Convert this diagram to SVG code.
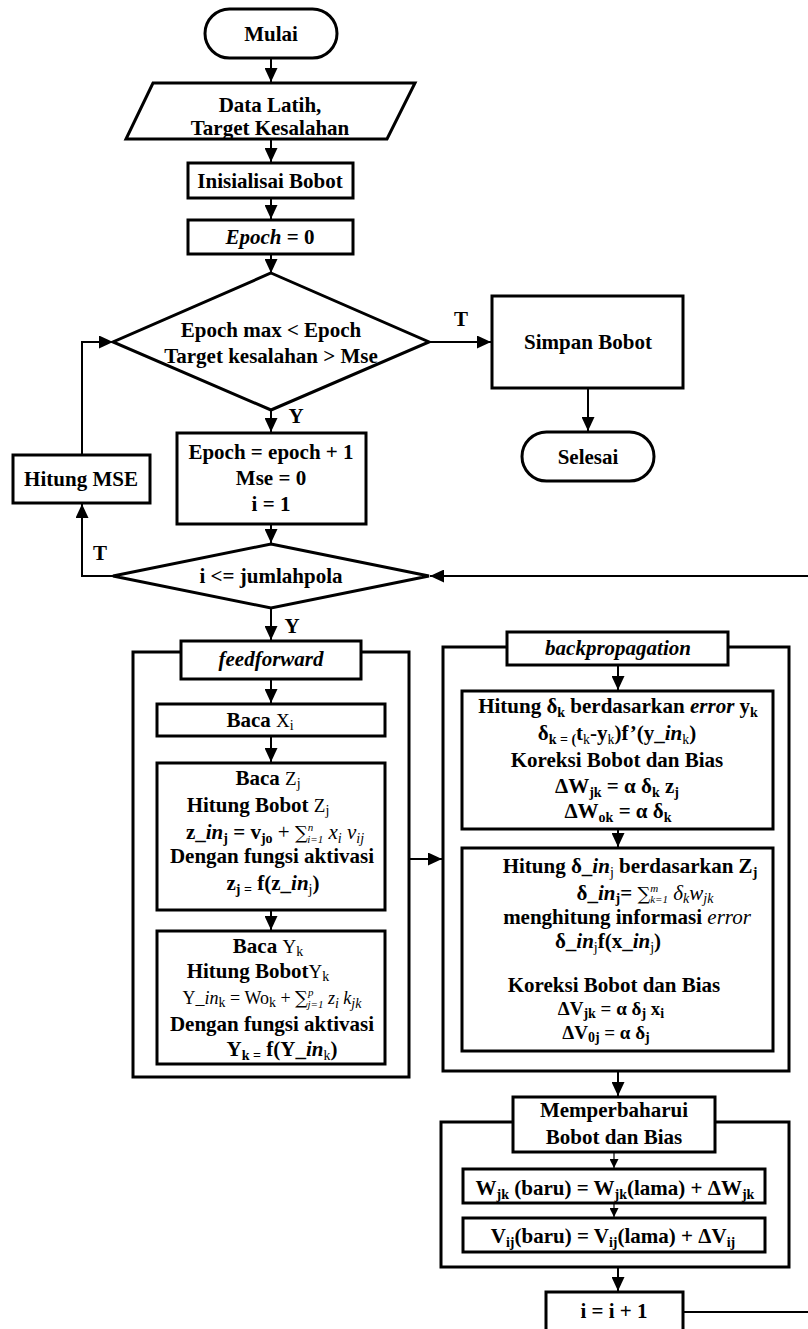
<svg xmlns="http://www.w3.org/2000/svg" width="808" height="1329" viewBox="0 0 808 1329">
<defs>
<style>
.t{font-family:"Liberation Serif","Times New Roman",serif;font-size:21px;font-weight:bold;fill:#000;text-anchor:middle}
.r{font-weight:normal}
.i{font-style:italic}
.s{font-size:14px}
.l{font-size:11px}
.sg{font-family:"DejaVu Serif","Liberation Serif",serif;font-size:18px;font-weight:normal}
.m{font-size:19px}
.bx{fill:#fff;stroke:#000;stroke-width:3}
.ct{fill:none;stroke:#000;stroke-width:3}
.ln{fill:none;stroke:#000;stroke-width:2}
.th{fill:none;stroke:#000;stroke-width:1.2}
</style>
<marker id="a" markerUnits="userSpaceOnUse" markerWidth="14" markerHeight="13" refX="14" refY="6.5" orient="auto"><path d="M0 0 L14 6.5 L0 13 Z" fill="#000"/></marker>
<marker id="as" markerUnits="userSpaceOnUse" markerWidth="9" markerHeight="9" refX="9" refY="4.5" orient="auto"><path d="M0 0 L9 4.5 L0 9 Z" fill="#000"/></marker>
</defs>
<rect width="808" height="1329" fill="#fff"/>

<g id="connectors">
<path class="ln" d="M271 58 V82" marker-end="url(#a)"/>
<path class="ln" d="M271 139 V162" marker-end="url(#a)"/>
<path class="ln" d="M271 198 V219" marker-end="url(#a)"/>
<path class="ln" d="M271 254 V273" marker-end="url(#a)"/>
<path class="ln" d="M429 342 H491" marker-end="url(#a)"/>
<path class="ln" d="M588 388 V431" marker-end="url(#a)"/>
<path class="ln" d="M271 410 V432" marker-end="url(#a)"/>
<path class="ln" d="M271 524 V543" marker-end="url(#a)"/>
<path class="ln" d="M113 576 H82 V504" marker-end="url(#a)"/>
<path class="ln" d="M82 455 V342 H113" marker-end="url(#a)"/>
<path class="ln" d="M271 608 V640" marker-end="url(#a)"/>
<path class="ln" d="M271 679 V703" marker-end="url(#a)"/>
<path class="ln" d="M271 736 V762" marker-end="url(#a)"/>
<path class="ln" d="M271 910 V930" marker-end="url(#a)"/>
<path class="ln" d="M409 859 H442" marker-end="url(#a)"/>
<path class="ln" d="M618 665 V690" marker-end="url(#a)"/>
<path class="ln" d="M618 829 V847" marker-end="url(#a)"/>
<path class="ln" d="M618 1071 V1096" marker-end="url(#a)"/>
<path class="th" d="M614 1152 V1168" marker-end="url(#as)"/>
<path class="th" d="M614 1203 V1217" marker-end="url(#as)"/>
<path class="ln" d="M618 1267 V1291" marker-end="url(#a)"/>
<path class="ln" d="M683 1312 H812 V576 H430" marker-end="url(#a)"/>
<text class="t" x="461" y="326">T</text>
<text class="t" x="296" y="423">Y</text>
<text class="t" x="100" y="560">T</text>
<text class="t" x="292" y="633">Y</text>
</g>

<g id="mulai">
<rect class="bx" x="205" y="9" width="132" height="49" rx="24.5"/>
<text class="t" x="271" y="41">Mulai</text>
</g>

<g id="data-latih">
<polygon class="bx" points="153,83 415,83 387,139 126,139"/>
<text class="t" x="270" y="112">Data Latih,</text>
<text class="t" x="270" y="135">Target Kesalahan</text>
</g>

<g id="inisialisasi">
<rect class="bx" x="188" y="163" width="165" height="35"/>
<text class="t" x="270" y="188">Inisialisai Bobot</text>
</g>

<g id="epoch0">
<rect class="bx" x="188" y="220" width="165" height="34"/>
<text class="t" x="270" y="244"><tspan class="i">Epoch</tspan> = 0</text>
</g>

<g id="cek-epoch">
<polygon class="bx" points="271,273 429,342 271,410 113,342"/>
<text class="t" x="271" y="337">Epoch max &lt; Epoch</text>
<text class="t" x="271" y="363">Target kesalahan &gt; Mse</text>
</g>

<g id="simpan">
<rect class="bx" x="492" y="296" width="191" height="92"/>
<text class="t" x="588" y="349">Simpan Bobot</text>
</g>

<g id="selesai">
<rect class="bx" x="522" y="432" width="132" height="49" rx="24.5"/>
<text class="t" x="588" y="464">Selesai</text>
</g>

<g id="epoch-inc">
<rect class="bx" x="177" y="433" width="189" height="91"/>
<text class="t" x="271" y="459">Epoch = epoch + 1</text>
<text class="t" x="271" y="485">Mse = 0</text>
<text class="t" x="271" y="511">i = 1</text>
</g>

<g id="hitung-mse">
<rect class="bx" x="13" y="455" width="137" height="48"/>
<text class="t" x="81" y="486">Hitung MSE</text>
</g>

<g id="cek-pola">
<polygon class="bx" points="271,544 429,576 271,608 113,576"/>
<text class="t" x="271" y="583">i &lt;= jumlahpola</text>
</g>

<g id="feedforward">
<rect class="ct" x="133" y="652" width="276" height="425"/>
<rect class="bx" x="181" y="641" width="180" height="38"/>
<text class="t i" x="271" y="666">feedforward</text>
</g>

<g id="baca-x">
<rect class="bx" x="157" y="704" width="228" height="32"/>
<text class="t" x="260" y="727"><tspan>Baca </tspan><tspan class="r m">X</tspan><tspan class="r s" dy="3">i</tspan></text>
</g>

<g id="baca-z">
<rect class="bx" x="157" y="763" width="228" height="147"/>
<text class="t" x="268" y="785"><tspan>Baca  </tspan><tspan class="r m">Z</tspan><tspan class="r s" dy="3">j</tspan></text>
<text class="t" x="258" y="812"><tspan>Hitung Bobot </tspan><tspan class="r m">Z</tspan><tspan class="r s" dy="3">j</tspan></text>
<text class="t" x="275" y="839"><tspan>z_</tspan><tspan class="i">in</tspan><tspan class="s" dy="4">j</tspan><tspan dy="-4"> = v</tspan><tspan class="s" dy="4">jo</tspan><tspan class="r" dy="-4"> + </tspan><tspan class="sg">∑</tspan><tspan class="r i l" dy="-8">n</tspan><tspan class="r i l" dx="-6" dy="12">i=1</tspan><tspan class="r i" dy="-4"> x</tspan><tspan class="r i s" dy="4">i</tspan><tspan class="r i" dy="-4"> v</tspan><tspan class="r i s" dy="4">ij</tspan></text>
<text class="t" x="272" y="863">Dengan fungsi aktivasi</text>
<text class="t" x="273" y="890"><tspan>z</tspan><tspan class="s" dy="4">j =</tspan><tspan dy="-4"> f(z_</tspan><tspan class="i">in</tspan><tspan class="s r" dy="4">j</tspan><tspan dy="-4">)</tspan></text>
</g>

<g id="baca-y">
<rect class="bx" x="157" y="931" width="228" height="133"/>
<text class="t" x="268" y="953"><tspan>Baca </tspan><tspan class="r m">Y</tspan><tspan class="r s" dy="3">k</tspan></text>
<text class="t" x="258" y="978"><tspan>Hitung Bobot</tspan><tspan class="r m">Y</tspan><tspan class="r s" dy="3">k</tspan></text>
<text class="t r" x="272" y="1004" style="font-size:18px"><tspan>Y_</tspan><tspan class="i">in</tspan><tspan class="s" dy="3">k</tspan><tspan dy="-3"> = Wo</tspan><tspan class="s" dy="3">k</tspan><tspan dy="-3"> + </tspan><tspan class="sg">∑</tspan><tspan class="i l" dy="-8">p</tspan><tspan class="i l" dx="-6" dy="12">j=1</tspan><tspan class="i" dy="-4"> z</tspan><tspan class="i s" dy="4">i</tspan><tspan class="i" dy="-4"> k</tspan><tspan class="i s" dy="4">jk</tspan></text>
<text class="t" x="272" y="1031">Dengan fungsi aktivasi</text>
<text class="t" x="282" y="1056"><tspan>Y</tspan><tspan class="s" dy="4">k =</tspan><tspan dy="-4"> f(Y_</tspan><tspan class="i">in</tspan><tspan class="s r" dy="4">k</tspan><tspan dy="-4">)</tspan></text>
</g>

<g id="backpropagation">
<rect class="ct" x="443" y="647" width="346" height="424"/>
<rect class="bx" x="507" y="632" width="221" height="33"/>
<text class="t i" x="618" y="655">backpropagation</text>
</g>

<g id="delta-k">
<rect class="bx" x="462" y="691" width="311" height="138"/>
<text class="t" x="618" y="713"><tspan>Hitung δ</tspan><tspan class="s" dy="4">k</tspan><tspan dy="-4"> berdasarkan </tspan><tspan class="i">error</tspan><tspan> y</tspan><tspan class="s" dy="4">k</tspan></text>
<text class="t" x="617" y="740"><tspan>δ</tspan><tspan class="s" dy="4">k = (</tspan><tspan dy="-4">t</tspan><tspan class="s r" dy="4">k</tspan><tspan dy="-4">-y</tspan><tspan class="s r" dy="4">k</tspan><tspan dy="-4">)f’(y_</tspan><tspan class="i">in</tspan><tspan class="s r" dy="4">k</tspan><tspan dy="-4">)</tspan></text>
<text class="t" x="617" y="767">Koreksi Bobot dan Bias</text>
<text class="t" x="617" y="793"><tspan>ΔW</tspan><tspan class="s" dy="4">jk</tspan><tspan dy="-4"> = α δ</tspan><tspan class="s" dy="4">k</tspan><tspan dy="-4"> z</tspan><tspan class="s" dy="4">j</tspan></text>
<text class="t" x="618" y="818"><tspan>ΔW</tspan><tspan class="s" dy="4">ok</tspan><tspan dy="-4"> = α δ</tspan><tspan class="s" dy="4">k</tspan></text>
</g>

<g id="delta-in">
<rect class="bx" x="462" y="848" width="311" height="203"/>
<text class="t" x="630" y="873"><tspan>Hitung δ_</tspan><tspan class="i">in</tspan><tspan class="s r" dy="4">j</tspan><tspan dy="-4"> berdasarkan Z</tspan><tspan class="s" dy="4">j</tspan></text>
<text class="t" x="645" y="900"><tspan>δ_</tspan><tspan class="i">in</tspan><tspan class="s" dy="3">j</tspan><tspan dy="-3">=  </tspan><tspan class="sg">∑</tspan><tspan class="r i l" dy="-8">m</tspan><tspan class="r i l" dx="-8" dy="11">k=1</tspan><tspan class="r i" dy="-3"> δ</tspan><tspan class="r i s" dy="3">k</tspan><tspan class="r i" dy="-3">w</tspan><tspan class="r i s" dy="3">jk</tspan></text>
<text class="t" x="627" y="924"><tspan>menghitung informasi </tspan><tspan class="i r">error</tspan></text>
<text class="t" x="608" y="948"><tspan>δ_</tspan><tspan class="i">in</tspan><tspan class="s r" dy="4">j</tspan><tspan dy="-4">f(x_</tspan><tspan class="i">in</tspan><tspan class="s r" dy="4">j</tspan><tspan dy="-4">)</tspan></text>
<text class="t" x="614" y="992">Koreksi Bobot dan Bias</text>
<text class="t m" x="611" y="1015"><tspan>ΔV</tspan><tspan class="s" dy="3">jk</tspan><tspan dy="-3"> = α δ</tspan><tspan class="s" dy="3">j</tspan><tspan dy="-3"> x</tspan><tspan class="s" dy="3">i</tspan></text>
<text class="t m" x="606" y="1039"><tspan>ΔV</tspan><tspan class="s" dy="3">0j</tspan><tspan dy="-3"> = α δ</tspan><tspan class="s" dy="3">j</tspan></text>
</g>

<g id="update">
<rect class="ct" x="441" y="1122" width="348" height="145"/>
<rect class="bx" x="513" y="1097" width="202" height="55"/>
<text class="t" x="614" y="1117">Memperbaharui</text>
<text class="t" x="614" y="1144">Bobot dan Bias</text>
</g>

<g id="update-w">
<rect class="bx" x="463" y="1169" width="302" height="34"/>
<text class="t" x="615" y="1195"><tspan>W</tspan><tspan class="s" dy="4">jk</tspan><tspan dy="-4"> (baru) = W</tspan><tspan class="s" dy="4">jk</tspan><tspan dy="-4">(lama) +  ΔW</tspan><tspan class="s" dy="4">jk</tspan></text>
</g>

<g id="update-v">
<rect class="bx" x="463" y="1218" width="302" height="34"/>
<text class="t" x="613" y="1243"><tspan>V</tspan><tspan class="s" dy="4">ij</tspan><tspan dy="-4">(baru) = V</tspan><tspan class="s" dy="4">ij</tspan><tspan dy="-4">(lama) + ΔV</tspan><tspan class="s" dy="4">ij</tspan></text>
</g>

<g id="increment">
<rect class="bx" x="546" y="1292" width="137" height="50"/>
<text class="t" x="614" y="1318">i = i + 1</text>
</g>
</svg>
